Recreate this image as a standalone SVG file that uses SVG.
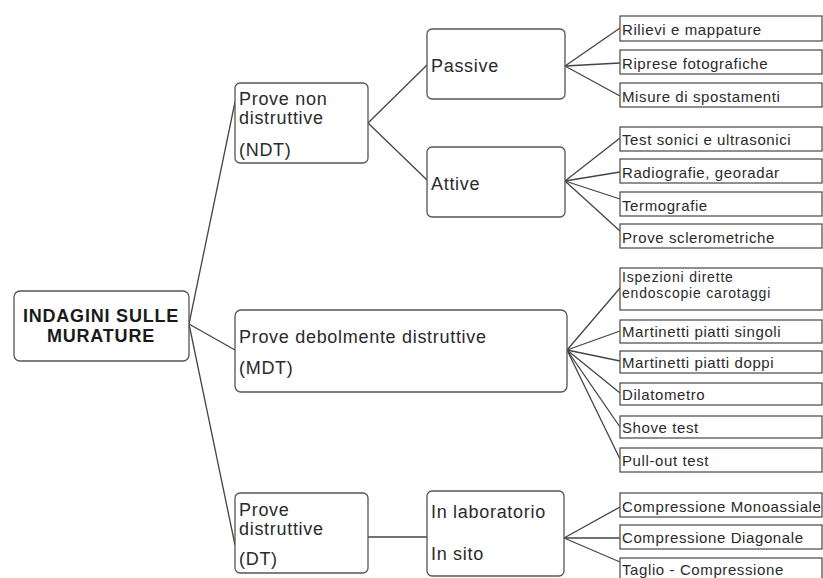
<svg xmlns="http://www.w3.org/2000/svg" width="823" height="578" viewBox="0 0 823 578">
<style>
.box{fill:#fff;stroke:#555;stroke-width:1.3}
.leaf{fill:#fff;stroke:#555;stroke-width:1.3}
.t{font-family:"Liberation Sans",Arial,sans-serif;font-size:18px;fill:#2a2a2a;letter-spacing:0.7px}
.lt{font-family:"Liberation Sans",Arial,sans-serif;font-size:15px;fill:#2a2a2a;letter-spacing:0.6px}
.lt2{font-family:"Liberation Sans",Arial,sans-serif;font-size:14px;fill:#2a2a2a;letter-spacing:0.8px}
.root{font-family:"Liberation Sans",Arial,sans-serif;font-size:18px;font-weight:bold;fill:#1a1a1a;letter-spacing:0.8px}
#connectors line{stroke:#444;stroke-width:1.3}
</style>
<rect width="823" height="578" fill="#fff"/>
<g id="connectors">
<line x1="189" y1="324" x2="235" y2="102"/>
<line x1="189" y1="324" x2="235" y2="350"/>
<line x1="189" y1="324" x2="235" y2="545"/>
<line x1="368" y1="123" x2="427" y2="65"/>
<line x1="368" y1="123" x2="427" y2="180"/>
<line x1="565" y1="66" x2="620" y2="28"/>
<line x1="565" y1="66" x2="620" y2="63"/>
<line x1="565" y1="66" x2="620" y2="96"/>
<line x1="565" y1="181" x2="620" y2="138"/>
<line x1="565" y1="181" x2="620" y2="172"/>
<line x1="565" y1="181" x2="620" y2="199"/>
<line x1="565" y1="181" x2="620" y2="231"/>
<line x1="567" y1="350" x2="620" y2="288"/>
<line x1="567" y1="350" x2="620" y2="331"/>
<line x1="567" y1="350" x2="620" y2="361"/>
<line x1="567" y1="350" x2="620" y2="393"/>
<line x1="567" y1="350" x2="620" y2="427"/>
<line x1="567" y1="350" x2="620" y2="459"/>
<line x1="368" y1="537" x2="427" y2="537"/>
<line x1="564" y1="538" x2="620" y2="507"/>
<line x1="564" y1="538" x2="620" y2="538"/>
<line x1="564" y1="538" x2="620" y2="562"/>
</g>
<g id="root">
<rect class="box" x="14" y="291" width="175" height="70" rx="6"/>
<text class="root" x="101" y="322" text-anchor="middle">INDAGINI SULLE</text>
<text class="root" x="101" y="342" text-anchor="middle">MURATURE</text>
</g>
<g id="ndt">
<rect class="box" x="235" y="83" width="133" height="80" rx="5"/>
<text class="t" x="239" y="105">Prove non</text>
<text class="t" x="239" y="124">distruttive</text>
<text class="t" x="239" y="156">(NDT)</text>
</g>
<g id="mdt">
<rect class="box" x="235" y="310" width="332" height="82" rx="6"/>
<text class="t" x="239" y="343">Prove debolmente distruttive</text>
<text class="t" x="239" y="374">(MDT)</text>
</g>
<g id="dt">
<rect class="box" x="235" y="493" width="133" height="80" rx="5"/>
<text class="t" x="239" y="516">Prove</text>
<text class="t" x="239" y="535">distruttive</text>
<text class="t" x="239" y="565">(DT)</text>
</g>
<g id="passive">
<rect class="box" x="427" y="29" width="138" height="70" rx="5"/>
<text class="t" x="431" y="72">Passive</text>
</g>
<g id="attive">
<rect class="box" x="427" y="147" width="138" height="70" rx="5"/>
<text class="t" x="431" y="190">Attive</text>
</g>
<g id="lab">
<rect class="box" x="427" y="491" width="137" height="85" rx="5"/>
<text class="t" x="431" y="518">In laboratorio</text>
<text class="t" x="431" y="560">In sito</text>
</g>
<g id="l1"><rect class="leaf" x="620" y="16" width="202" height="25"/><text class="lt" x="622" y="35">Rilievi e mappature</text></g>
<g id="l2"><rect class="leaf" x="620" y="50" width="202" height="24"/><text class="lt" x="622" y="69">Riprese fotografiche</text></g>
<g id="l3"><rect class="leaf" x="620" y="83" width="202" height="24"/><text class="lt" x="622" y="102">Misure di spostamenti</text></g>
<g id="l4"><rect class="leaf" x="620" y="127" width="202" height="24"/><text class="lt" x="622" y="145">Test sonici e ultrasonici</text></g>
<g id="l5"><rect class="leaf" x="620" y="159" width="202" height="24"/><text class="lt" x="622" y="178">Radiografie, georadar</text></g>
<g id="l6"><rect class="leaf" x="620" y="192" width="202" height="24"/><text class="lt" x="622" y="211">Termografie</text></g>
<g id="l7"><rect class="leaf" x="620" y="224" width="202" height="24"/><text class="lt" x="622" y="243">Prove sclerometriche</text></g>
<g id="l8"><rect class="leaf" x="620" y="268" width="202" height="42"/><text class="lt2" x="622" y="282">Ispezioni dirette</text><text class="lt2" x="622" y="298">endoscopie carotaggi</text></g>
<g id="l9"><rect class="leaf" x="620" y="320" width="202" height="23"/><text class="lt" x="622" y="337">Martinetti piatti singoli</text></g>
<g id="l10"><rect class="leaf" x="620" y="351" width="202" height="22"/><text class="lt" x="622" y="368">Martinetti piatti doppi</text></g>
<g id="l11"><rect class="leaf" x="620" y="383" width="202" height="22"/><text class="lt" x="622" y="400">Dilatometro</text></g>
<g id="l12"><rect class="leaf" x="620" y="416" width="202" height="22"/><text class="lt" x="622" y="433">Shove test</text></g>
<g id="l13"><rect class="leaf" x="620" y="448" width="202" height="24"/><text class="lt" x="622" y="466">Pull-out test</text></g>
<g id="l14"><rect class="leaf" x="620" y="493" width="202" height="24"/><text class="lt" x="622" y="512">Compressione Monoassiale</text></g>
<g id="l15"><rect class="leaf" x="620" y="525" width="202" height="24"/><text class="lt" x="622" y="543">Compressione Diagonale</text></g>
<g id="l16"><rect class="leaf" x="620" y="558" width="202" height="24"/><text class="lt" x="622" y="575">Taglio - Compressione</text></g>
</svg>
